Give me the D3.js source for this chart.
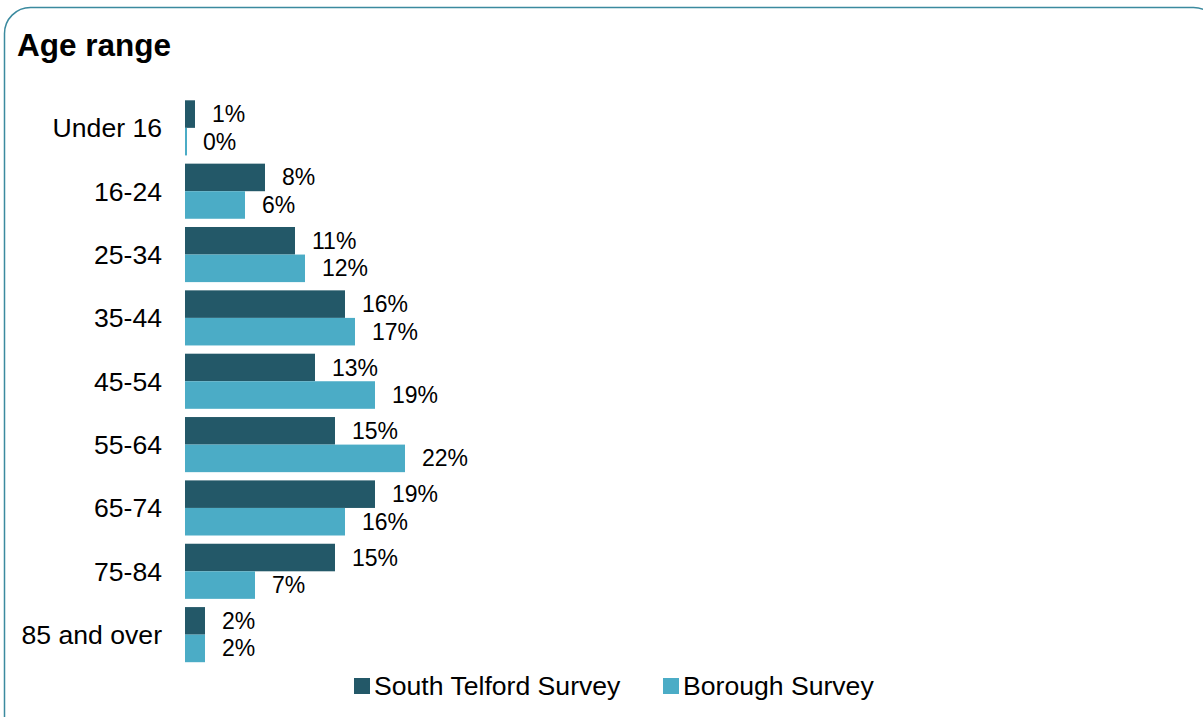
<!DOCTYPE html>
<html>
<head>
<meta charset="utf-8">
<script src="https://cdn.jsdelivr.net/npm/d3@7"></script>
<style>
  html, body { margin: 0; padding: 0; background: #ffffff; }
  svg { display: block; font-family: "Liberation Sans", Arial, sans-serif; }
</style>
</head>
<body>
<svg id="chart" width="1203" height="717"></svg>
<script>
// Age groups, top to bottom
const categories = ["Under 16", "16-24", "25-34", "35-44", "45-54", "55-64", "65-74", "75-84", "85 and over"];
// Share of respondents (%) per survey
const southTelford = [1, 8, 11, 16, 13, 15, 19, 15, 2];
const borough = [0, 6, 12, 17, 19, 22, 16, 7, 2];
const seriesNames = ["South Telford Survey", "Borough Survey"];
const seriesColors = ["#235868", "#4bacc6"];

const svg = d3.select("#chart");

// Rounded frame
svg.append("rect")
  .attr("x", 4.5).attr("y", 7.5)
  .attr("width", 1215).attr("height", 740)
  .attr("rx", 26).attr("ry", 26)
  .attr("fill", "none")
  .attr("stroke", "#3b8a9f")
  .attr("stroke-width", 1.5);

svg.append("text")
  .attr("x", 17).attr("y", 56)
  .attr("font-size", 31.5).attr("font-weight", "bold")
  .attr("fill", "#000")
  .text("Age range");

const x = d3.scaleLinear().domain([0, 100]).range([185, 1185]);
const y = d3.scaleBand().domain(categories).range([96.5, 666]).paddingInner(0.13).paddingOuter(0.06);
const sub = d3.scaleBand().domain([0, 1]).range([0, y.bandwidth()]);

const rows = categories.map((c, i) => ({ cat: c, vals: [southTelford[i], borough[i]] }));

const groups = svg.append("g").selectAll("g")
  .data(rows).join("g")
  .attr("transform", d => `translate(0,${y(d.cat)})`);

groups.selectAll("rect")
  .data(d => d.vals.map((v, k) => ({ v, k })))
  .join("rect")
  .attr("x", x(0))
  .attr("y", d => sub(d.k))
  .attr("width", d => Math.max(x(d.v) - x(0), d.v === 0 ? 2 : 0))
  .attr("height", sub.bandwidth())
  .attr("fill", d => seriesColors[d.k]);

groups.selectAll("text.val")
  .data(d => d.vals.map((v, k) => ({ v, k })))
  .join("text")
  .attr("class", "val")
  .attr("x", d => x(d.v) + (d.v === 0 ? 18 : 17))
  .attr("y", d => sub(d.k) + sub.bandwidth() / 2)
  .attr("dy", "0.35em")
  .attr("font-size", 23)
  .attr("fill", "#000")
  .text(d => d.v + "%");

// Category axis labels
svg.append("g").selectAll("text")
  .data(categories).join("text")
  .attr("x", 162)
  .attr("y", d => y(d) + y.bandwidth() / 2)
  .attr("dy", "0.35em")
  .attr("text-anchor", "end")
  .attr("font-size", 26.6)
  .attr("fill", "#000")
  .text(d => d);

// Legend
const legendX = [354, 663];
const legend = svg.append("g").selectAll("g")
  .data(seriesNames).join("g")
  .attr("transform", (d, i) => `translate(${legendX[i]},678)`);
legend.append("rect")
  .attr("width", 16).attr("height", 16)
  .attr("fill", (d, i) => seriesColors[i]);
legend.append("text")
  .attr("x", 20).attr("y", 8).attr("dy", "0.35em")
  .attr("font-size", 26.6)
  .attr("fill", "#000")
  .text(d => d);
</script>
</body>
</html>
